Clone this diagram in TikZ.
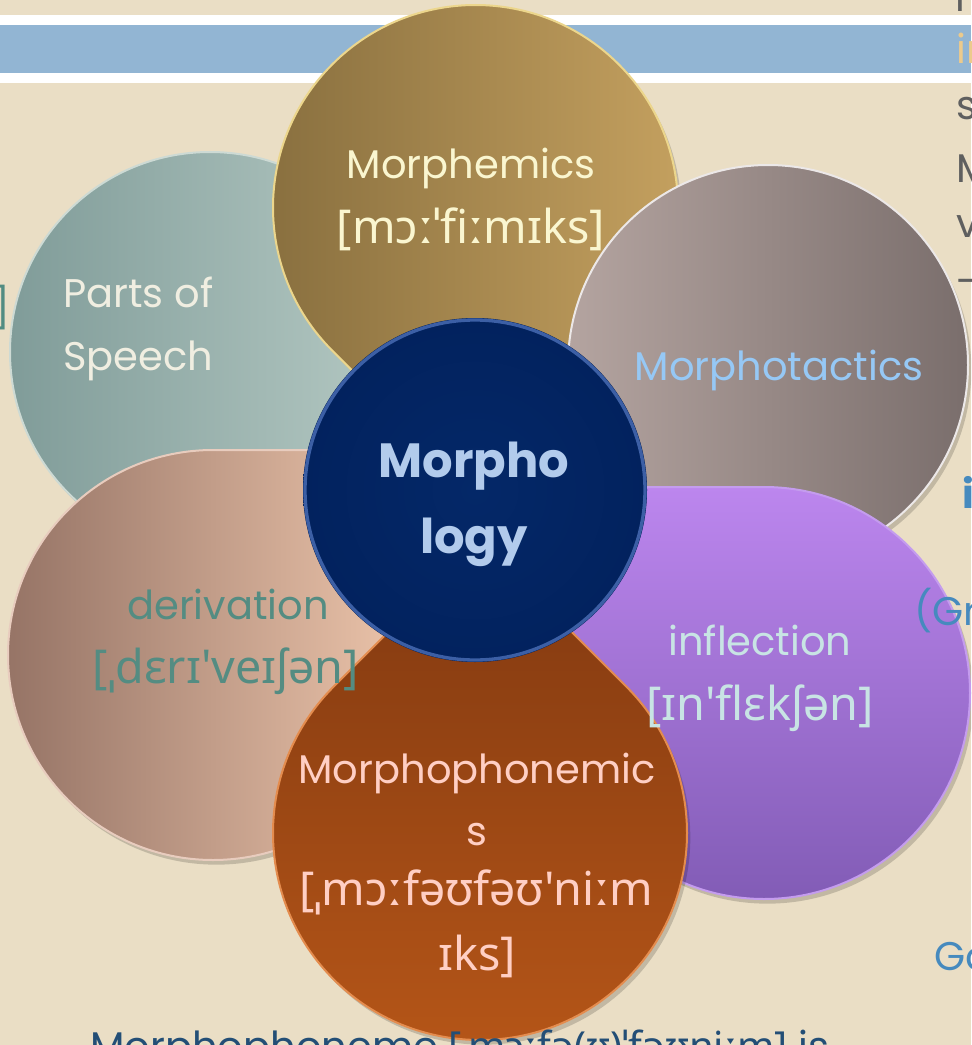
\documentclass[tikz,border=0pt]{standalone}
\usepackage{fontspec}
\setmainfont{Poppins}
\newfontfamily\ipafont{Noto Sans}
\definecolor{bg}{RGB}{234,222,197}
\definecolor{barblue}{RGB}{146,181,211}
\definecolor{navy}{RGB}{2,34,94}
\definecolor{navyin}{RGB}{4,40,104}
\definecolor{navyrim}{RGB}{60,95,165}
\definecolor{grayTxt}{RGB}{95,95,95}
\definecolor{orangeTxt}{RGB}{236,202,140}
\definecolor{blueTxt}{RGB}{70,138,190}
\definecolor{deepBlue}{RGB}{35,78,118}
\definecolor{tealTxt}{RGB}{82,140,130}
\definecolor{cMorphemics}{RGB}{250,246,208}
\definecolor{cParts}{RGB}{240,238,225}
\definecolor{cTactics}{RGB}{150,200,245}
\definecolor{cCenter}{RGB}{178,203,236}
\definecolor{cDeriv}{RGB}{84,140,130}
\definecolor{cInfl}{RGB}{200,228,228}
\definecolor{cPhon}{RGB}{255,207,196}
\definecolor{pA1}{RGB}{128,156,153}
\definecolor{pA2}{RGB}{182,202,196}
\definecolor{pArim}{RGB}{205,218,212}
\definecolor{pB1}{RGB}{135,110,62}
\definecolor{pB2}{RGB}{198,162,96}
\definecolor{pBrim}{RGB}{236,214,140}
\definecolor{pC1}{RGB}{180,164,160}
\definecolor{pC2}{RGB}{122,110,108}
\definecolor{pCrim}{RGB}{236,232,232}
\definecolor{pD1}{RGB}{188,134,238}
\definecolor{pD2}{RGB}{130,92,182}
\definecolor{pDrim}{RGB}{196,156,238}
\definecolor{pE1}{RGB}{150,116,102}
\definecolor{pE2}{RGB}{238,198,172}
\definecolor{pErim}{RGB}{232,204,190}
\definecolor{pF1}{RGB}{128,56,16}
\definecolor{pF2}{RGB}{182,86,24}
\definecolor{pFrim}{RGB}{228,140,78}
\tikzset{
  lbl/.style={font=\fontsize{30}{36}\selectfont, inner sep=0pt, anchor=base},
  ipa/.style={font=\fontsize{35}{40}\ipafont, inner sep=0pt, anchor=base},
  edgetxt/.style={font=\fontsize{30}{36}\selectfont, inner sep=0pt, anchor=base west},
  shadowfill/.style={fill=black, opacity=0.17, xshift=2.5pt, yshift=-3.5pt},
  rim/.style={draw=#1, line width=1.5},
}
\begin{document}
\begin{tikzpicture}[x=0.75pt,y=-0.75pt]
\useasboundingbox (0,0) rectangle (971,1045);
\clip (0,0) rectangle (971,1045);
\fill[bg] (0,0) rectangle (971,1045);
\fill[white] (0,15) rectangle (971,83);
\fill[barblue] (0,25) rectangle (971,73);

\coordinate (C) at (475,490);

% ---- Parts of Speech  (teardrop, corner toward lower right)
\fill[shadowfill] (210,352) ++(90:200) arc [start angle=90, end angle=360, radius=200] -- (410,552) -- cycle;
\shade[left color=pA1, right color=pA2] (210,352) ++(90:200) arc [start angle=90, end angle=360, radius=200] -- (410,552) -- cycle;
\path[rim=pArim] (210,352) ++(90:200) arc [start angle=90, end angle=360, radius=200] -- (410,552) -- cycle;

% ---- Morphemics  (corner downward)
\fill[shadowfill] (475.5,207.5) ++(135:202.5) arc [start angle=135, end angle=405, radius=202.5] -- (475.5,493.9) -- cycle;
\shade[left color=pB1, right color=pB2] (475.5,207.5) ++(135:202.5) arc [start angle=135, end angle=405, radius=202.5] -- (475.5,493.9) -- cycle;
\path[rim=pBrim] (475.5,207.5) ++(135:202.5) arc [start angle=135, end angle=405, radius=202.5] -- (475.5,493.9) -- cycle;

% ---- Morphotactics  (corner toward lower left)
\fill[shadowfill] (768,365) ++(180:200) arc [start angle=180, end angle=450, radius=200] -- (568,565) -- cycle;
\shade[left color=pC1, right color=pC2] (768,365) ++(180:200) arc [start angle=180, end angle=450, radius=200] -- (568,565) -- cycle;
\path[rim=pCrim] (768,365) ++(180:200) arc [start angle=180, end angle=450, radius=200] -- (568,565) -- cycle;

% ---- inflection  (corner toward upper left)
\fill[shadowfill] (764,693) ++(270:206) arc [start angle=270, end angle=540, radius=206] -- (558,487) -- cycle;
\shade[top color=pD1, bottom color=pD2] (764,693) ++(270:206) arc [start angle=270, end angle=540, radius=206] -- (558,487) -- cycle;
\path[rim=pDrim] (764,693) ++(270:206) arc [start angle=270, end angle=540, radius=206] -- (558,487) -- cycle;

% ---- derivation  (corner toward upper right)
\fill[shadowfill] (213,655) ++(0:205) arc [start angle=0, end angle=270, radius=205] -- (418,450) -- cycle;
\shade[left color=pE1, right color=pE2] (213,655) ++(0:205) arc [start angle=0, end angle=270, radius=205] -- (418,450) -- cycle;
\path[rim=pErim] (213,655) ++(0:205) arc [start angle=0, end angle=270, radius=205] -- (418,450) -- cycle;

% ---- Morphophonemics  (corner upward)
\fill[shadowfill] (480,833) ++(315:207) arc [start angle=315, end angle=585, radius=207] -- (480,540.3) -- cycle;
\shade[top color=pF1, bottom color=pF2] (480,833) ++(315:207) arc [start angle=315, end angle=585, radius=207] -- (480,540.3) -- cycle;
\path[rim=pFrim] (480,833) ++(315:207) arc [start angle=315, end angle=585, radius=207] -- (480,540.3) -- cycle;

% ---- centre
\fill[shadowfill] (C) circle [radius=172];
\shade[inner color=navyin, outer color=navy] (C) circle [radius=172];
\draw[navyrim, line width=2.5] (C) circle [radius=170];

% ---- labels
\node[lbl, text=cMorphemics] (m1) at (471,178) {Morphemics};
\node[ipa, text=cMorphemics] (m2) at (471,243) {[mɔːˈfiːmɪks]};
\node[lbl, anchor=base west, text=cParts] (p1) at (63,307) {Parts of};
\node[lbl, anchor=base west, text=cParts] (p2) at (63,370) {Speech};
\node[lbl, text=cTactics] (mt) at (779,380) {Morphotactics};
\node[lbl, text=cCenter, font=\fontsize{36}{40}\selectfont\bfseries] (c1) at (474,477) {Morpho};
\node[lbl, text=cCenter, font=\fontsize{36}{40}\selectfont\bfseries] (c2) at (474,553) {logy};
\node[lbl, text=cDeriv] (d1) at (228,619) {derivation};
\node[ipa, text=cDeriv] (d2) at (226,683) {[ˌdɛrɪ'veɪʃən]};
\node[lbl, text=cInfl] (i1) at (760,655) {inflection};
\node[ipa, text=cInfl] (i2) at (760,720) {[ɪn'flɛkʃən]};
\node[lbl, text=cPhon] (f1) at (477,783) {Morphophonemic};
\node[lbl, text=cPhon] (f2) at (477,845) {s};
\node[ipa, text=cPhon] (f3) at (476,905) {[ˌmɔːfəʊfəʊ'niːm};
\node[ipa, text=cPhon] (f4) at (477,970) {ɪks]};

% edge texts of the slide (cut off by the picture's border)
\node[edgetxt, text=grayTxt] (t0) at (955,12) {m};
\node[edgetxt, text=orangeTxt] (t1) at (956,64) {in};
\node[edgetxt, text=grayTxt] (t2) at (956,120) {s};
\node[edgetxt, text=grayTxt] (t3) at (956,182) {M};
\node[edgetxt, text=grayTxt] (t4) at (956,237) {v};
\node[edgetxt, text=grayTxt] (t5) at (956,295) {-};
\node[edgetxt, text=blueTxt, font=\fontsize{30}{36}\selectfont\bfseries] (t6) at (962,508) {in};
\node[edgetxt, text=blueTxt] (t7) at (914,625) {(Gr};
\node[edgetxt, text=blueTxt] (t8) at (934,970) {Go};
\node[inner sep=0pt, anchor=base east, font=\fontsize{30}{36}\selectfont, text=tealTxt] (t9) at (11,322) {]};
\node[edgetxt, text=deepBlue] (bt) at (90,1060) {Morphophoneme {\ipafont[ˌmɔːfə(ʊ)ˈfəʊniːm]} is};
\end{tikzpicture}
\end{document}
